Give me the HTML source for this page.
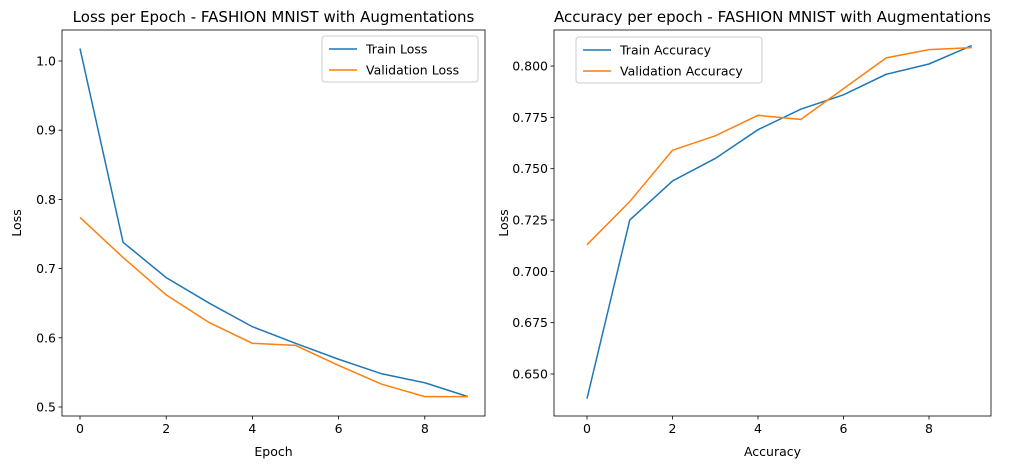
<!DOCTYPE html>
<html><head><meta charset="utf-8">
<style>
body{margin:0;background:#fff;font-family:"Liberation Sans","DejaVu Sans",sans-serif;}
svg text{font-family:"DejaVu Sans","Liberation Sans",sans-serif;fill:#000;}
</style></head>
<body>
<svg id="chart" width="1032" height="468" xmlns="http://www.w3.org/2000/svg"></svg>
<script>
const epochs=[0,1,2,3,4,5,6,7,8,9];
const trainLoss=[1.018,0.738,0.687,0.650,0.616,0.592,0.569,0.548,0.535,0.515];
const valLoss=[0.774,0.716,0.662,0.622,0.592,0.589,0.560,0.533,0.515,0.515];
const trainAcc=[0.638,0.725,0.744,0.755,0.769,0.779,0.786,0.796,0.801,0.810];
const valAcc=[0.713,0.734,0.759,0.766,0.776,0.774,0.789,0.804,0.808,0.809];
const xTicks=[0,2,4,6,8];
const lossTicks=[0.5,0.6,0.7,0.8,0.9,1.0];
const accTicks=[0.650,0.675,0.700,0.725,0.750,0.775,0.800];

const NS="http://www.w3.org/2000/svg";
const svg=document.getElementById('chart');
function el(tag,attrs,parent){const e=document.createElementNS(NS,tag);for(const k in attrs)e.setAttribute(k,attrs[k]);(parent||svg).appendChild(e);return e;}

function panel(cfg){
  const g=el('g',{});
  
  
  const {x0,x1,y0,y1}=cfg.box;
  const sx=v=>cfg.xa+(v-0)*cfg.xs;
  const sy=v=>cfg.ya+(v-cfg.yref)*cfg.ys;
  const colors=['#1f77b4','#ff7f0e'];
  cfg.series.forEach((s,i)=>{
    const p=el('polyline',{points:epochs.map((e,j)=>sx(e)+','+sy(s[j])).join(' '),fill:'none',stroke:colors[i],'stroke-width':1.5},g);
    
    
  });
  const f=el('rect',{x:x0,y:y0,width:x1-x0,height:y1-y0,fill:'none',stroke:'#000','stroke-width':0.8},g);
  
  
  xTicks.forEach(t=>{
    const X=sx(t);
    el('line',{x1:X,x2:X,y1:y1,y2:y1+3.5,stroke:'#000','stroke-width':0.8},g);
    const tx=el('text',{x:X,y:y1+17,'font-size':12.5,'text-anchor':'middle'},g);tx.textContent=t;
    
    
  });
  cfg.yTicks.forEach(t=>{
    const Y=sy(t);
    el('line',{x1:x0,x2:x0-3.5,y1:Y,y2:Y,stroke:'#000','stroke-width':0.8},g);
    const tx=el('text',{x:x0-6,y:Y+4.5,'font-size':12.5,'text-anchor':'end'},g);tx.textContent=t.toFixed(cfg.dec);
    
    
  });
  const tt=el('text',{x:(x0+x1)/2,y:y0-8,'font-size':15,'text-anchor':'middle'},g);tt.textContent=cfg.title;
  
  
  const xl=el('text',{x:(x0+x1)/2,y:y1+40,'font-size':12.5,'text-anchor':'middle'},g);xl.textContent=cfg.xlabel;
  
  
  const yl=el('text',{x:0,y:0,'font-size':12.5,'text-anchor':'middle',transform:`translate(${cfg.ylx},${(y0+y1)/2}) rotate(-90)`},g);yl.textContent='Loss';
  
  
  const L=cfg.legend;
  const lg=el('g',{},g);
  
  
  el('rect',{x:L.x,y:L.y,width:L.w,height:46,rx:3,fill:'#fff',stroke:'#ccc','stroke-width':1},lg);
  cfg.seriesNames.forEach((n,i)=>{
    const yy=L.y+13+i*21;
    el('line',{x1:L.x+7,x2:L.x+35,y1:yy,y2:yy,stroke:colors[i],'stroke-width':1.5},lg);
    const t=el('text',{x:L.x+44,y:yy+4.5,'font-size':12.5},lg);t.textContent=cfg.labels[i];
    
    
  });
}
panel({name:'loss-chart',box:{x0:62,x1:485,y0:30,y1:416},xa:80,xs:43.1,ya:407,yref:0.5,ys:-692,
  series:[trainLoss,valLoss],seriesNames:['train-loss-line','validation-loss-line'],labels:['Train Loss','Validation Loss'],
  yTicks:lossTicks,dec:1,title:'Loss per Epoch - FASHION MNIST with Augmentations',xlabel:'Epoch',ylx:21,
  legend:{x:322,y:36,w:156}});
panel({name:'accuracy-chart',box:{x0:554,x1:991,y0:30,y1:416},xa:587,xs:42.75,ya:374,yref:0.65,ys:-2053,
  series:[trainAcc,valAcc],seriesNames:['train-accuracy-line','validation-accuracy-line'],labels:['Train Accuracy','Validation Accuracy'],
  yTicks:accTicks,dec:3,title:'Accuracy per epoch - FASHION MNIST with Augmentations',xlabel:'Accuracy',ylx:508,
  legend:{x:576,y:37,w:186}});
</script>
</body></html>
